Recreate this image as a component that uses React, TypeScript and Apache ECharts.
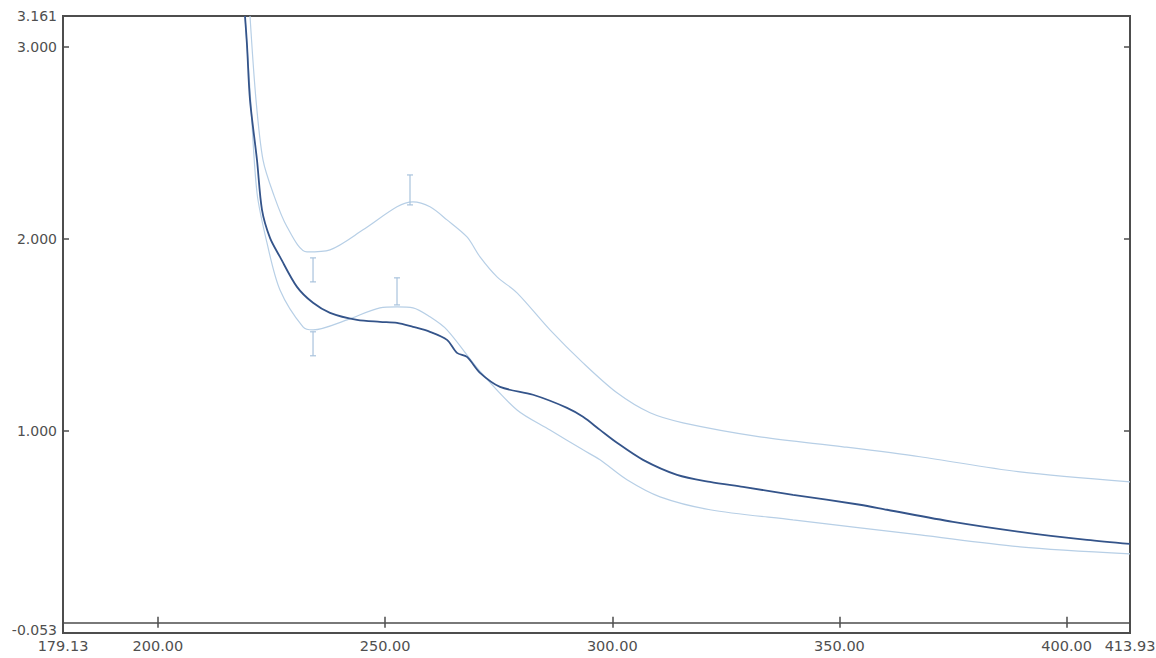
import React, { useEffect, useRef } from "react";
import * as echarts from "echarts";

// Wavelength (nm) / absorbance
const mainX = [219.18, 219.62, 220.28, 221.82, 222.92, 224.68, 226.88, 230.62, 234.15, 237.89, 243.83, 248.89, 252.63, 256.15, 259.89, 263.63, 265.83, 268.03, 270.9, 275.3, 282.56, 290.04, 293.56, 297.3, 301.04, 306.76, 314.25, 321.51, 328.77, 339.77, 354.52, 360.46, 374.98, 389.73, 404.47, 413.93];
const mainY = [3.161, 3.01, 2.724, 2.411, 2.151, 2.005, 1.906, 1.75, 1.667, 1.615, 1.578, 1.568, 1.563, 1.542, 1.516, 1.474, 1.406, 1.385, 1.302, 1.229, 1.188, 1.12, 1.073, 1.005, 0.938, 0.849, 0.771, 0.734, 0.708, 0.667, 0.615, 0.589, 0.526, 0.474, 0.432, 0.411];

const upperX = [220.28, 221.6, 223.14, 225.34, 228.42, 232.82, 237.89, 245.15, 252.63, 256.15, 259.89, 263.63, 268.03, 270.9, 274.64, 279.04, 286.3, 293.56, 301.04, 308.31, 315.57, 332.51, 350.78, 367.72, 389.73, 413.93];
const upperY = [3.161, 2.724, 2.411, 2.24, 2.063, 1.932, 1.943, 2.047, 2.167, 2.193, 2.167, 2.099, 2.01, 1.906, 1.802, 1.719, 1.526, 1.354, 1.198, 1.094, 1.042, 0.969, 0.917, 0.865, 0.786, 0.734];

const lowerX = [219.18, 220.28, 221.82, 224.02, 226.88, 231.94, 234.15, 241.63, 248.89, 252.63, 256.15, 259.89, 263.63, 270.9, 279.04, 286.3, 293.56, 297.3, 303.24, 310.51, 321.51, 339.77, 354.52, 367.72, 389.73, 413.93];
const lowerY = [3.161, 2.776, 2.24, 1.979, 1.734, 1.542, 1.526, 1.578, 1.641, 1.646, 1.641, 1.594, 1.526, 1.31, 1.109, 1.005, 0.901, 0.849, 0.745, 0.656, 0.589, 0.536, 0.495, 0.458, 0.396, 0.359];

// Error bars: wavelength, low, high
const errX = [234.15, 234.15, 255.49, 252.63];
const errLow = [1.776, 1.391, 2.177, 1.656];
const errHigh = [1.901, 1.516, 2.333, 1.797];

const xMin = 179.13;
const xMax = 413.93;
const yMin = -0.053;
const yMax = 3.161;
const xLabelValues = [179.13, 200, 250, 300, 350, 400, 413.93];
const xTickValues = [200, 250, 300, 350, 400];
const yLabelValues = [-0.053, 1, 2, 3, 3.161];
const yTickValues = [1, 2, 3];

const zip = (xs: number[], ys: number[]) => xs.map((x, i) => [x, ys[i]]);

export default function App() {
  const ref = useRef<HTMLDivElement>(null);
  useEffect(() => {
    if (!ref.current) return;
    const chart = echarts.init(ref.current, undefined, { renderer: "svg" });
    const axisColor = "#4d4d4d";
    const labelStyle = { color: "#4f4f4f", fontFamily: "DejaVu Sans", fontSize: 14 };
    const lightColor = "#b7cfe6";
    chart.setOption({
      animation: false,
      backgroundColor: "#fff",
      grid: {
        left: 63,
        right: 26,
        top: 16,
        bottom: 25,
        outerBoundsMode: "none",
        containLabel: false,
        show: true,
        borderColor: axisColor,
        borderWidth: 2,
        backgroundColor: "transparent",
      },
      xAxis: [
        {
          type: "value",
          min: xMin,
          max: xMax,
          position: "bottom",
          axisLine: { show: false },
          splitLine: { show: false },
          axisTick: { show: true, inside: true, length: 6, customValues: xTickValues, lineStyle: { color: axisColor, width: 1.5 } },
          axisLabel: { ...labelStyle, fontSize: 14.5, margin: 5, customValues: xLabelValues, formatter: (v: number) => v.toFixed(2) },
        },
        {
          type: "value",
          min: xMin,
          max: xMax,
          position: "top",
          axisLine: { show: false },
          splitLine: { show: false },
          axisTick: { show: true, inside: true, length: 5, customValues: xTickValues, lineStyle: { color: axisColor, width: 1.5 } },
          axisLabel: { show: false },
        },
      ],
      yAxis: [
        {
          type: "value",
          min: yMin,
          max: yMax,
          position: "left",
          axisLine: { show: false },
          splitLine: { show: false },
          axisTick: { show: true, inside: true, length: 6, customValues: yTickValues, lineStyle: { color: axisColor, width: 1.5 } },
          axisLabel: {
            ...labelStyle,
            margin: 6,
            customValues: yLabelValues,
            formatter: (v: number) => (v < 0 ? "{low|" + v.toFixed(3) + "}" : v.toFixed(3)),
            rich: { low: { ...labelStyle, padding: [0, 0, 6, 0] } },
          },
        },
        {
          type: "value",
          min: yMin,
          max: yMax,
          position: "right",
          axisLine: { show: false },
          splitLine: { show: false },
          axisTick: { show: true, inside: true, length: 6, customValues: yTickValues, lineStyle: { color: axisColor, width: 1.5 } },
          axisLabel: { show: false },
        },
      ],
      series: [
        {
          type: "line",
          data: zip(upperX, upperY),
          showSymbol: false,
          smooth: 0.3,
          lineStyle: { color: lightColor, width: 1.2 },
          z: 2,
        },
        {
          type: "line",
          data: zip(lowerX, lowerY),
          showSymbol: false,
          smooth: 0.3,
          lineStyle: { color: lightColor, width: 1.2 },
          z: 2,
        },
        {
          type: "custom",
          data: errX.map((x, i) => [x, errLow[i], errHigh[i]]),
          encode: { x: 0, y: [1, 2] },
          z: 3,
          renderItem: (_p: any, api: any) => {
            const x = api.value(0);
            const lo = api.coord([x, api.value(1)]);
            const hi = api.coord([x, api.value(2)]);
            const cap = 3;
            const style = { stroke: "#a9c3dd", lineWidth: 1.2 };
            return {
              type: "group",
              children: [
                { type: "line", shape: { x1: lo[0], y1: lo[1], x2: hi[0], y2: hi[1] }, style },
                { type: "line", shape: { x1: hi[0] - cap, y1: hi[1], x2: hi[0] + cap, y2: hi[1] }, style },
                { type: "line", shape: { x1: lo[0] - cap, y1: lo[1], x2: lo[0] + cap, y2: lo[1] }, style },
              ],
            };
          },
        },
        {
          type: "line",
          data: zip(mainX, mainY),
          showSymbol: false,
          smooth: 0.3,
          lineStyle: { color: "#34548a", width: 1.8 },
          z: 4,
          markLine: {
            silent: true,
            symbol: ["none", "none"],
            label: { show: false },
            lineStyle: { color: axisColor, width: 1.5, type: "solid" },
            data: [{ yAxis: 0 }],
          },
        },
      ],
    });
    return () => chart.dispose();
  }, []);
  return (
    <div
      ref={ref}
      style={{ position: "fixed", left: 0, top: 0, width: 1156, height: 658, background: "#fff" }}
    />
  );
}
